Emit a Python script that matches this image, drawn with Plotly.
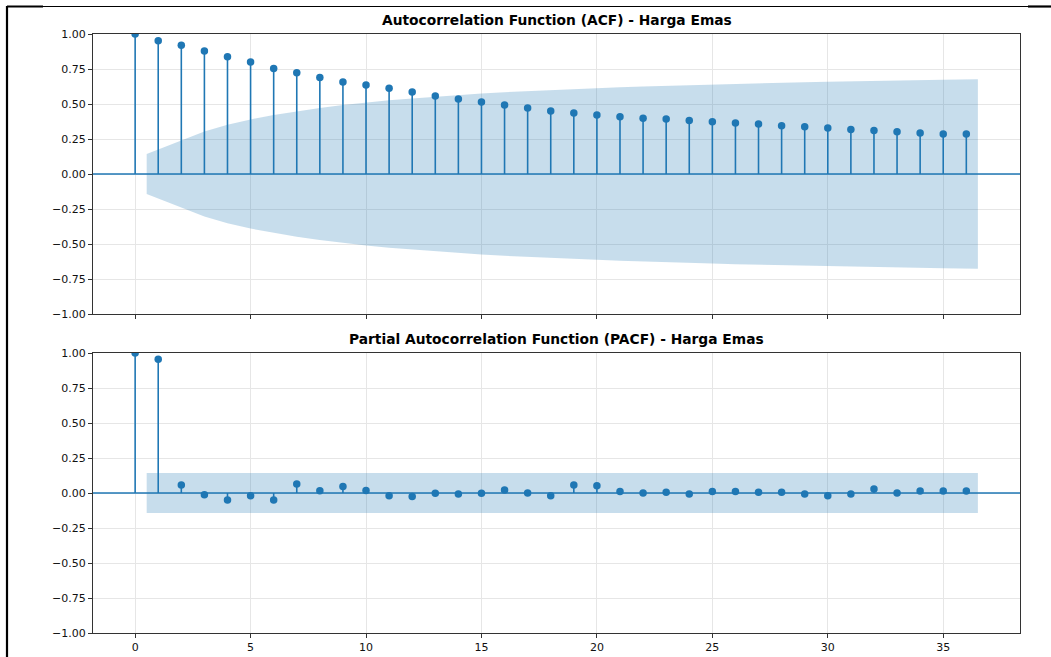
import plotly.graph_objects as go

# ---------------- data ----------------
lags = list(range(0, 37))
acf_vals = [1.000, 0.952, 0.919, 0.879, 0.838, 0.800, 0.754, 0.723, 0.689, 0.657,
            0.636, 0.613, 0.586, 0.557, 0.536, 0.514, 0.493, 0.471, 0.450, 0.436,
            0.421, 0.409, 0.398, 0.393, 0.383, 0.374, 0.364, 0.357, 0.345, 0.338,
            0.329, 0.317, 0.310, 0.302, 0.293, 0.286, 0.286]
# half-width of the ACF confidence band at lags 1..36
acf_band = [0.143, 0.240, 0.303, 0.351, 0.390, 0.422, 0.449, 0.472, 0.492, 0.510,
            0.526, 0.540, 0.553, 0.564, 0.575, 0.584, 0.592, 0.600, 0.607, 0.613,
            0.619, 0.625, 0.630, 0.635, 0.639, 0.644, 0.648, 0.652, 0.656, 0.659,
            0.663, 0.666, 0.669, 0.671, 0.674, 0.677]
pacf_vals = [1.000, 0.955, 0.057, -0.013, -0.050, -0.019, -0.050, 0.064, 0.016, 0.047,
             0.017, -0.019, -0.025, -0.002, -0.007, -0.002, 0.021, 0.000, -0.019, 0.057,
             0.052, 0.010, 0.000, 0.005, -0.007, 0.010, 0.010, 0.005, 0.005, -0.007,
             -0.019, -0.007, 0.029, 0.000, 0.014, 0.014, 0.014]
pacf_band = [0.143] * 36

titles = ["Autocorrelation Function (ACF) - Harga Emas",
          "Partial Autocorrelation Function (PACF) - Harga Emas"]
ytickvals = [1.0, 0.75, 0.5, 0.25, 0.0, -0.25, -0.5, -0.75, -1.0]
xtickvals = [0, 5, 10, 15, 20, 25, 30, 35]

# ---------------- layout geometry ----------------
W, H = 1051, 657
def px(x):
    return x / W
def py(y):
    return 1 - y / H

BLUE = "#1f77b4"
FILL = "rgba(31,119,180,0.25)"
FONT = "DejaVu Sans"

fig = go.Figure()

panels = [(acf_vals, acf_band, "x", "y"), (pacf_vals, pacf_band, "x2", "y2")]
for vals, band, xa, ya in panels:
    sx, sy = [], []
    for k, v in zip(lags, vals):
        sx += [k, k, None]
        sy += [0, v, None]
    fig.add_trace(go.Scatter(x=sx, y=sy, mode="lines", line=dict(color=BLUE, width=1.6),
                             xaxis=xa, yaxis=ya, showlegend=False, hoverinfo="skip"))
    fig.add_trace(go.Scatter(x=lags, y=vals, mode="markers",
                             marker=dict(color=BLUE, size=7.5, line=dict(width=0)),
                             xaxis=xa, yaxis=ya, showlegend=False, cliponaxis=True))
    bx = [float(k) for k in lags[1:]]
    bx[0] -= 0.5
    bx[-1] += 0.5
    fx = bx + bx[::-1]
    fy = list(band) + [-b for b in band[::-1]]
    fig.add_trace(go.Scatter(x=fx, y=fy, mode="lines", fill="toself", fillcolor=FILL,
                             line=dict(width=0, color=FILL), xaxis=xa, yaxis=ya,
                             showlegend=False, hoverinfo="skip"))

xdom = [px(93), px(1020)]
axis_common = dict(showline=True, linecolor="#333333", linewidth=1, mirror=True,
                   showgrid=True, gridcolor="#e6e6e6", gridwidth=1, zeroline=False,
                   ticks="outside", ticklen=4, tickcolor="#333333",
                   tickfont=dict(family=FONT, size=11, color="#111111"))
fig.update_layout(
    width=W, height=H, margin=dict(l=0, r=0, t=0, b=0, autoexpand=False),
    plot_bgcolor="white", paper_bgcolor="white",
    font=dict(family=FONT, color="#111111"),
    xaxis=dict(domain=xdom, range=[-1.825, 38.325], anchor="y", tickvals=xtickvals,
               showticklabels=False, **axis_common),
    yaxis=dict(domain=[py(314), py(34)], range=[-1, 1], anchor="x", tickvals=ytickvals,
               tickformat=".2f", **axis_common),
    xaxis2=dict(domain=xdom, range=[-1.825, 38.325], anchor="y2", tickvals=xtickvals,
                **axis_common),
    yaxis2=dict(domain=[py(633), py(353)], range=[-1, 1], anchor="x2", tickvals=ytickvals,
                tickformat=".2f", **axis_common),
)

# zero lines
for xa, ya in [("x", "y"), ("x2", "y2")]:
    fig.add_shape(type="line", xref=f"{xa} domain", yref=ya, x0=0, x1=1, y0=0, y1=0,
                  line=dict(color=BLUE, width=1.6), layer="above")

# titles
for t, ytop in zip(titles, [34, 353]):
    fig.add_annotation(text=f"<b>{t}</b>", xref="paper", yref="paper",
                       x=(xdom[0] + xdom[1]) / 2, y=py(ytop), xanchor="center", yanchor="bottom",
                       yshift=4, showarrow=False, font=dict(family=FONT, size=13.8, color="#000000"))

# outer frame lines (screenshot border)
frame = [
    (7, 6.5, 43, 6.5, 2.2),
    (43, 6.5, 1028, 6.5, 1.0),
    (1028, 6.5, 1051, 6.5, 2.2),
    (7, 6, 7, 657, 2.2),
]
for x0, y0, x1, y1, w in frame:
    fig.add_shape(type="line", xref="paper", yref="paper", x0=px(x0), y0=py(y0),
                  x1=px(x1), y1=py(y1), line=dict(color="black", width=w))

fig.write_html("out.html", config={"displayModeBar": False},
               post_script="document.body.style.margin='0';document.body.style.overflow='hidden';")
